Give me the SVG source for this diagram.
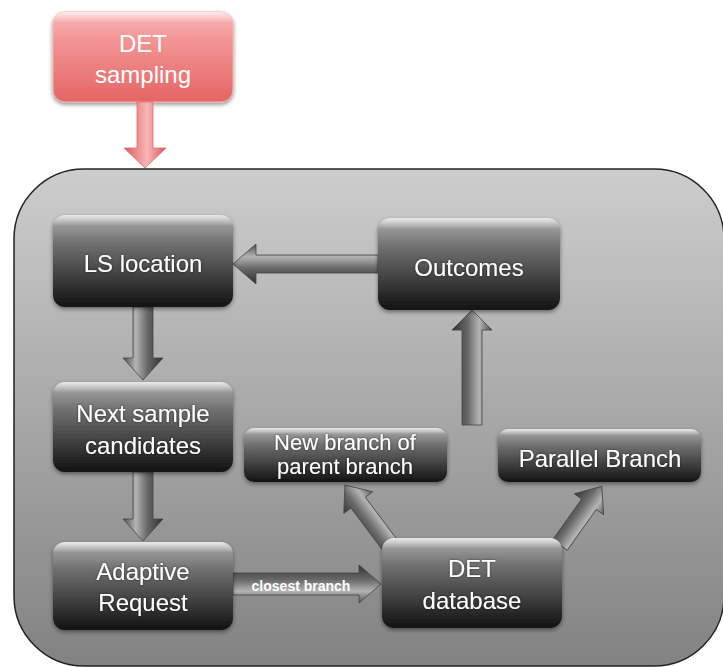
<svg xmlns="http://www.w3.org/2000/svg" width="723" height="667" viewBox="0 0 723 667">
<defs>
<linearGradient id="gCont" x1="0" y1="0" x2="0" y2="1">
<stop offset="0" stop-color="#cdcdcd"/><stop offset="1" stop-color="#828282"/>
</linearGradient>
<linearGradient id="gNode" x1="0" y1="0" x2="0" y2="1">
<stop offset="0" stop-color="#a8a8a8"/><stop offset="0.12" stop-color="#8a8a8a"/><stop offset="0.55" stop-color="#4f4f4f"/><stop offset="1" stop-color="#121212"/>
</linearGradient>
<linearGradient id="gHi" x1="0" y1="0" x2="0" y2="1">
<stop offset="0" stop-color="#ffffff" stop-opacity="0.75"/><stop offset="0.12" stop-color="#ffffff" stop-opacity="0.1"/><stop offset="0.3" stop-color="#ffffff" stop-opacity="0"/>
</linearGradient>
<linearGradient id="gPink" x1="0" y1="0" x2="0" y2="1">
<stop offset="0" stop-color="#f9aaaa"/><stop offset="1" stop-color="#e56565"/>
</linearGradient>
<linearGradient id="gPinkArr" gradientUnits="userSpaceOnUse" x1="0" y1="-21" x2="0" y2="21">
<stop offset="0" stop-color="#d65858"/><stop offset="0.45" stop-color="#f9b5b5"/><stop offset="1" stop-color="#d85c5c"/>
</linearGradient>
<linearGradient id="gArr" gradientUnits="userSpaceOnUse" x1="0" y1="-20" x2="0" y2="20">
<stop offset="0" stop-color="#2e2e2e"/><stop offset="0.4" stop-color="#6a6a6a"/><stop offset="0.68" stop-color="#b4b4b4"/><stop offset="1" stop-color="#4a4a4a"/>
</linearGradient>
<filter id="shadow" x="-10%" y="-10%" width="120%" height="130%">
<feDropShadow dx="0" dy="2" stdDeviation="2" flood-color="#000" flood-opacity="0.45"/>
</filter>
<filter id="tsh" x="-5%" y="-20%" width="110%" height="140%">
<feDropShadow dx="0" dy="0" stdDeviation="1" flood-color="#000" flood-opacity="0.6"/>
</filter>
</defs>
<style>
.node rect.b{fill:url(#gNode);filter:url(#shadow)}
.node rect.h{fill:url(#gHi)}
.t{font-family:"Liberation Sans",Arial,sans-serif;font-size:24px;fill:#ffffff;text-anchor:middle;filter:url(#tsh)}
.n{font-size:22px}
.sm{font-family:"Liberation Sans",Arial,sans-serif;font-size:14px;font-weight:bold;fill:#ffffff;text-anchor:middle}
.arr{fill:url(#gArr);stroke:#444;stroke-width:0.8}
</style>

<g id="container">
<rect x="14" y="169" width="710" height="497" rx="70" ry="70" fill="url(#gCont)" stroke="#222" stroke-width="1.5"/>
</g>

<g id="det-sampling">
<rect x="53" y="12" width="180" height="90" rx="12" fill="url(#gPink)" stroke="#f0b0b0" stroke-width="1" filter="url(#shadow)"/>
<rect x="53" y="12" width="180" height="90" rx="12" fill="url(#gHi)"/>
<text class="t" x="143" y="52" style="filter:none">DET</text>
<text class="t" x="143" y="83" style="filter:none">sampling</text>
</g>

<g id="connectors">
<path transform="translate(145,102) rotate(90)" d="M0,-8 L46,-8 L46,-21 L66,0 L46,21 L46,8 L0,8 Z" fill="url(#gPinkArr)" stroke="#d87070" stroke-width="0.8"/>
<path class="arr" transform="translate(378,264) rotate(180)" d="M0,-9 L122,-9 L122,-20 L145,0 L122,20 L122,9 L0,9 Z"/>
<path class="arr" transform="translate(143,307) rotate(90)" d="M0,-10 L51,-10 L51,-20 L73,0 L51,20 L51,10 L0,10 Z"/>
<path class="arr" transform="translate(143,472) rotate(90)" d="M0,-10 L47,-10 L47,-20 L69,0 L47,20 L47,10 L0,10 Z"/>
<path class="arr" transform="translate(233,584)" d="M0,-11 L126,-11 L126,-19 L148,0 L126,19 L126,11 L0,11 Z"/>
<path class="arr" transform="translate(390,545) rotate(-126.87)" d="M0,-9 L53,-9 L53,-18 L75,0 L53,18 L53,9 L0,9 Z"/>
<path class="arr" transform="translate(560,545) rotate(-54.56)" d="M0,-9 L50,-9 L50,-18 L72,0 L50,18 L50,9 L0,9 Z"/>
<path class="arr" transform="translate(472,425) rotate(-90)" d="M0,-10 L95,-10 L95,-20 L115,0 L95,20 L95,10 L0,10 Z"/>
<text class="sm" x="301" y="591">closest branch</text>
</g>

<g id="ls-location" class="node">
<rect class="b" x="53" y="215" width="180" height="92" rx="12"/>
<rect class="h" x="53" y="215" width="180" height="92" rx="12"/>
<text class="t" x="143" y="272">LS location</text>
</g>

<g id="outcomes" class="node">
<rect class="b" x="378" y="218" width="182" height="92" rx="12"/>
<rect class="h" x="378" y="218" width="182" height="92" rx="12"/>
<text class="t" x="469" y="276">Outcomes</text>
</g>

<g id="next-sample" class="node">
<rect class="b" x="53" y="382" width="180" height="90" rx="12"/>
<rect class="h" x="53" y="382" width="180" height="90" rx="12"/>
<text class="t" x="143" y="422">Next sample</text>
<text class="t" x="143" y="454">candidates</text>
</g>

<g id="adaptive-request" class="node">
<rect class="b" x="53" y="542" width="180" height="88" rx="12"/>
<rect class="h" x="53" y="542" width="180" height="88" rx="12"/>
<text class="t" x="143" y="580">Adaptive</text>
<text class="t" x="143" y="611">Request</text>
</g>

<g id="new-branch" class="node">
<rect class="b" x="244" y="428" width="203" height="54" rx="10"/>
<rect class="h" x="244" y="428" width="203" height="54" rx="10"/>
<text class="t n" x="345" y="450">New branch of</text>
<text class="t n" x="345" y="474">parent branch</text>
</g>

<g id="parallel-branch" class="node">
<rect class="b" x="498" y="429" width="203" height="53" rx="10"/>
<rect class="h" x="498" y="429" width="203" height="53" rx="10"/>
<text class="t" x="600" y="467">Parallel Branch</text>
</g>

<g id="det-database" class="node">
<rect class="b" x="382" y="538" width="180" height="90" rx="12"/>
<rect class="h" x="382" y="538" width="180" height="90" rx="12"/>
<text class="t" x="472" y="577">DET</text>
<text class="t" x="472" y="609">database</text>
</g>
</svg>
